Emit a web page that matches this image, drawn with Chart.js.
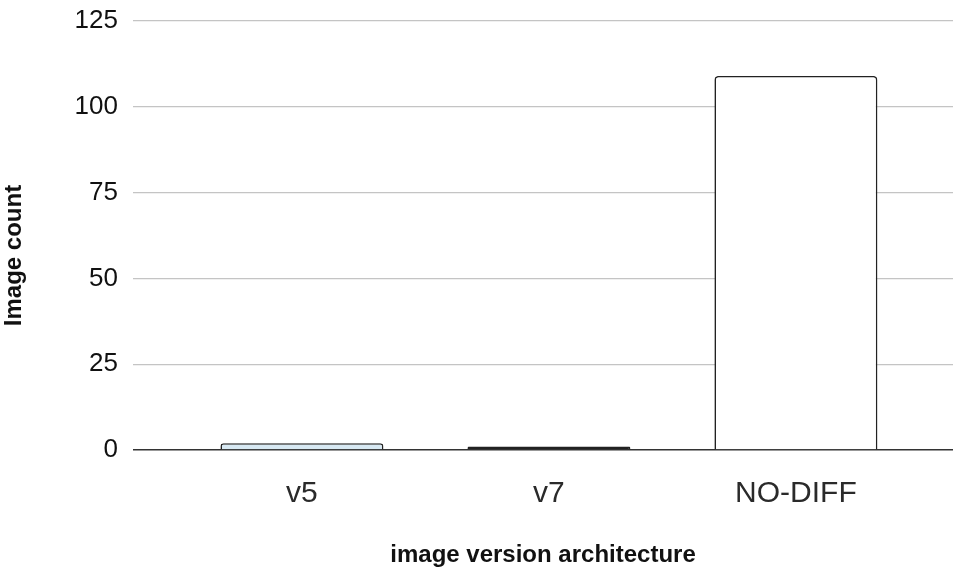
<!DOCTYPE html>
<html>
<head>
<meta charset="utf-8">
<script src="https://cdn.jsdelivr.net/npm/chart.js@4/dist/chart.umd.min.js"></script>
<style>
  html, body { margin: 0; padding: 0; background: #ffffff; }
  #wrap { width: 953px; height: 570px; position: relative; }
</style>
</head>
<body>
<div id="wrap"><canvas id="chart"></canvas></div>
<script>
// Image counts per version architecture
const categories = ['v5', 'v7', 'NO-DIFF'];
const imageCounts = [2, 1, 109];
const yTicks = [0, 25, 50, 75, 100, 125];

const fillColors = ['#d8e9f3', '#222222', '#ffffff'];

const points = categories.map((c, i) => ({ x: i, y: imageCounts[i] }));

new Chart(document.getElementById('chart'), {
  type: 'bar',
  data: {
    datasets: [{
      data: points,
      backgroundColor: fillColors,
      borderColor: '#222222',
      borderWidth: 1.6,
      borderRadius: 4,
      borderSkipped: 'start',
      barPercentage: 0.66,
      categoryPercentage: 1
    }]
  },
  options: {
    responsive: true,
    maintainAspectRatio: false,
    animation: false,
    layout: { padding: { top: 21, right: 0, left: 0, bottom: 0 } },
    plugins: { legend: { display: false }, tooltip: { enabled: false } },
    scales: {
      x: {
        type: 'linear',
        offset: false,
        min: -0.684,
        max: 2.636,
        grid: { display: false, drawTicks: false, offset: false },
        border: { display: false },
        afterBuildTicks: (scale) => {
          scale.ticks = categories.map((c, i) => ({ value: i }));
        },
        afterFit: (scale) => { scale.height = 120; },
        ticks: {
          padding: 26,
          color: '#2a2a2a',
          font: { family: 'Liberation Sans, Arial, sans-serif', size: 30 },
          callback: (v) => categories[v]
        },
        title: {
          display: true,
          text: 'image version architecture',
          color: '#111111',
          padding: { top: 0, bottom: 0 },
          font: { family: 'Liberation Sans, Arial, sans-serif', size: 24, weight: 'bold' }
        }
      },
      y: {
        min: 0,
        max: 125,
        afterBuildTicks: (scale) => {
          scale.ticks = yTicks.map(v => ({ value: v }));
        },
        afterFit: (scale) => {
          scale.width = 133;
          scale.paddingTop = 0;
          scale.paddingBottom = 0;
        },
        grid: {
          drawTicks: false,
          lineWidth: (ctx) => ctx.tick && ctx.tick.value === 0 ? 1.5 : 1.2,
          color: (ctx) => ctx.tick && ctx.tick.value === 0 ? '#333333' : '#c4c4c4'
        },
        border: { display: false },
        ticks: {
          padding: 15,
          color: '#111111',
          font: { family: 'Liberation Sans, Arial, sans-serif', size: 26 }
        },
        title: {
          display: true,
          text: 'Image count\u00a0\u00a0\u00a0\u00a0\u00a0\u00a0',
          color: '#111111',
          padding: { top: 0, bottom: 0 },
          font: { family: 'Liberation Sans, Arial, sans-serif', size: 24, weight: 'bold' }
        }
      }
    }
  }
});
</script>
</body>
</html>
